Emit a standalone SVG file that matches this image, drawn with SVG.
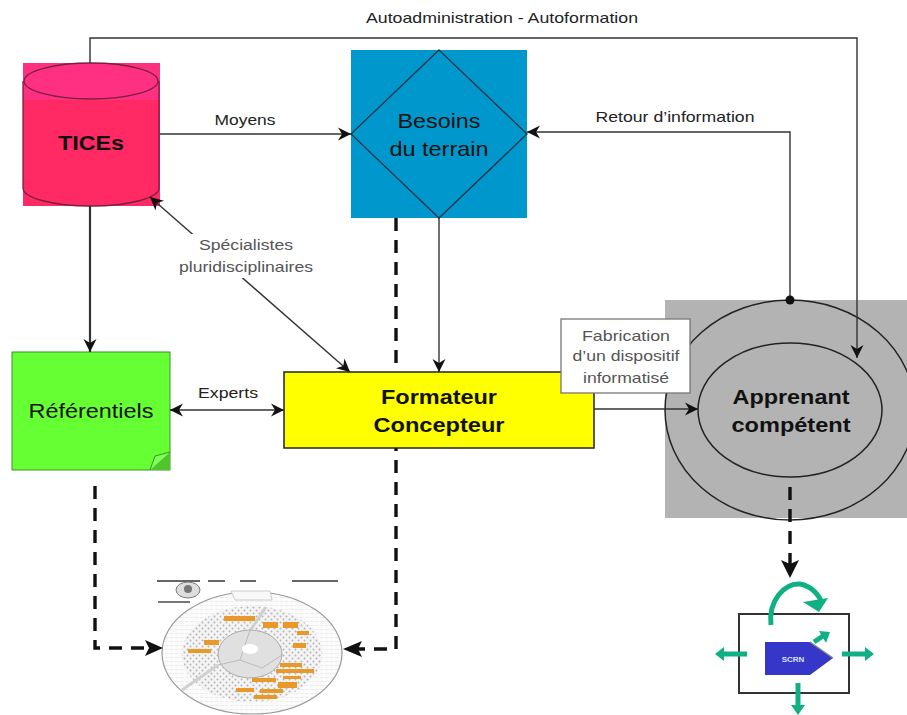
<svg xmlns="http://www.w3.org/2000/svg" width="907" height="715" viewBox="0 0 907 715">
<style>
text{font-family:"Liberation Sans",Arial,sans-serif;fill:#111;text-anchor:middle}
.big{font-size:21px}.b{font-weight:bold}.lab{font-size:15px;fill:#222}.gr{font-size:15px;fill:#555}
.ln{fill:none;stroke:#333;stroke-width:1.4}
.th{fill:none;stroke:#333;stroke-width:2.2}
.da{fill:none;stroke:#111;stroke-width:3.4;stroke-dasharray:13 9}
.or{fill:#e8992a}
.gn{fill:none;stroke:#0fb083;stroke-width:5}
.gf{fill:#0fb083}
</style>
<defs>
<marker id="ah" viewBox="0 0 15 15" refX="14" refY="7.5" markerWidth="15" markerHeight="15" markerUnits="userSpaceOnUse" orient="auto-start-reverse"><path d="M1 1L14 7.5L1 14L5 7.5Z" fill="#111"/></marker>
<pattern id="dots" width="6" height="6" patternUnits="userSpaceOnUse"><rect width="6" height="6" fill="#f4f4f4"/><circle cx="1.5" cy="1.5" r="1" fill="#b5b5b5"/><circle cx="4.5" cy="4.5" r="1" fill="#b5b5b5"/></pattern>
<pattern id="fine" width="5" height="4" patternUnits="userSpaceOnUse"><rect width="5" height="4" fill="#fbfbfb"/><rect y="1" width="3.5" height="1" fill="#ececec"/></pattern>
<filter id="soft" x="-5%" y="-5%" width="110%" height="110%"><feGaussianBlur stdDeviation="0.7"/></filter>
</defs>

<g id="node-ref-image" filter="url(#soft)">
<path d="M157 581H200M208 581H225M240 581H256M292 581H338" stroke="#666" stroke-width="2" fill="none"/>
<ellipse cx="188" cy="590" rx="12" ry="8" fill="#ddd" stroke="#777"/>
<circle cx="188" cy="589" r="4" fill="#777"/>
<path d="M158 602H190" stroke="#777" stroke-width="2"/>
<ellipse cx="252" cy="653" rx="90" ry="61" fill="url(#fine)" stroke="#999" stroke-width="1.2"/>
<path d="M231 591H270L272 600L235 600Z" fill="#f8f8f8" stroke="#ccc"/>
<ellipse cx="252" cy="654" rx="70" ry="48" fill="url(#dots)"/>
<path d="M266 607L250 631M218 665L182 690" stroke="#d0d0d0" stroke-width="3"/>
<ellipse cx="250" cy="654" rx="32" ry="24" fill="#e0e0e0" stroke="#aaa"/>
<path d="M250 630L240 660L218 665M240 660L262 668M262 668L282 655" stroke="#bbb" fill="none"/>
<ellipse cx="250" cy="649" rx="8" ry="5" fill="#fff"/>
<path class="or" d="M224 616h31v5h-31zM263 622h15v6h-15zM283 622h15v6h-15zM297 631h12v4h-12zM293 643h13v5h-13zM204 640h15v5h-15zM188 649h23v4h-23zM280 663h22v4h-22zM276 669h38v4h-38zM283 676h18v3h-18zM252 678h24v4h-24zM278 682h19v6h-19zM236 688h18v4h-18zM260 689h23v4h-23zM254 695h23v4h-23z"/>
</g>

<g id="connectors-behind">
<path class="da" d="M396 218V649H358"/>
</g>

<g id="node-tices">
<rect x="23" y="63" width="137" height="143" fill="#ff2a63"/>
<rect x="23" y="63" width="137" height="37" fill="#ff3082"/>
<path d="M23 81V188C23 198 53 206 91 206S159 198 159 188V81" fill="none" stroke="#7a2040" stroke-width="1.3"/>
<ellipse cx="91" cy="81" rx="67" ry="18" fill="none" stroke="#7a2040" stroke-width="1.3"/>
<text class="big b" x="91" y="150" textLength="66" lengthAdjust="spacingAndGlyphs">TICEs</text>
</g>

<g id="node-besoins">
<rect x="351" y="50" width="176" height="168" fill="#0098cc"/>
<path d="M439 50L527 134L439 218L351 134Z" fill="none" stroke="#13364a" stroke-width="1.3"/>
<text class="big" x="439" y="128" textLength="83" lengthAdjust="spacingAndGlyphs">Besoins</text>
<text class="big" x="439" y="156" textLength="99" lengthAdjust="spacingAndGlyphs">du terrain</text>
</g>

<g id="node-referentiels">
<rect x="12" y="352" width="158" height="118" fill="#66ff33" stroke="#3f8f2b" stroke-width="1"/>
<path d="M150 470L170 452V470Z" fill="#4fc52c"/>
<path d="M150 470L155 456L170 452" fill="#7dff55" stroke="#3f8f2b"/>
<text class="big" x="91" y="418" textLength="125" lengthAdjust="spacingAndGlyphs">Référentiels</text>
</g>

<g id="node-formateur">
<rect x="284" y="372" width="310" height="76" fill="#ffff00" stroke="#222" stroke-width="1.5"/>
<text class="big b" x="439" y="404" textLength="116" lengthAdjust="spacingAndGlyphs">Formateur</text>
<text class="big b" x="439" y="432" textLength="131" lengthAdjust="spacingAndGlyphs">Concepteur</text>
</g>

<g id="node-apprenant">
<rect x="665" y="300" width="242" height="218" fill="#b3b3b3"/>
<ellipse cx="790" cy="410" rx="125" ry="110" fill="none" stroke="#222" stroke-width="1.5"/>
<ellipse cx="790" cy="410" rx="92" ry="67" fill="none" stroke="#222" stroke-width="1.5"/>
<text class="big b" x="791" y="404" textLength="117" lengthAdjust="spacingAndGlyphs">Apprenant</text>
<text class="big b" x="791" y="432" textLength="119" lengthAdjust="spacingAndGlyphs">compétent</text>
</g>

<g id="node-scorm">
<rect x="739" y="614" width="110" height="79" fill="#fff" stroke="#333" stroke-width="2"/>
<path d="M765 642H810L833 658L810 675H765Z" fill="#3636c8"/>
<path d="M810 642L833 658" stroke="#888" stroke-width="1.5"/>
<text x="793" y="662" style="font-size:8px;fill:#dfe0ff;font-weight:bold">SCRN</text>
<path class="gn" d="M771 625C768 600 785 583 800 584C812 586 820 596 822 604" stroke-width="7"/>
<path class="gf" d="M803 602L828 598L819 612Z"/>
<path class="gn" d="M814 642L823 636" stroke-width="5"/>
<path class="gf" d="M819 631L830 632L826 643Z"/>
<path class="gn" d="M747 654H724"/><path class="gf" d="M715 654L724 647V661Z"/>
<path class="gn" d="M842 654H866"/><path class="gf" d="M874 654L865 647V661Z"/>
<path class="gn" d="M798 683V706"/><path class="gf" d="M798 715L791 705H805Z"/>
</g>

<g id="connectors">
<path class="ln" d="M90 63V38H857V358" marker-end="url(#ah)"/>
<path class="ln" d="M160 134H351" marker-end="url(#ah)"/>
<path class="ln" d="M790 300V132H527" marker-end="url(#ah)"/>
<path class="th" d="M90 206V352" marker-end="url(#ah)"/>
<path class="ln" d="M439 218V372" marker-end="url(#ah)"/>
<path class="ln" d="M150 197L350 372" marker-start="url(#ah)" marker-end="url(#ah)"/>
<path class="ln" d="M170 410H284" marker-start="url(#ah)" marker-end="url(#ah)"/>
<path class="ln" d="M594 409H698" marker-end="url(#ah)"/>
<path d="M343 649L362 641L358 649L362 657Z" fill="#111"/>
<path class="da" d="M95 486V648H154"/>
<path d="M163 648L145 640L149 648L145 656Z" fill="#111"/>
<path class="da" d="M790 487V570"/>
<path d="M790 578L781 560L790 564L799 560Z" fill="#111"/>
<circle cx="790" cy="300" r="4.5" fill="#111"/>
</g>

<g id="edge-labels">
<text class="lab" x="502" y="23" textLength="272" lengthAdjust="spacingAndGlyphs">Autoadministration - Autoformation</text>
<text class="lab" x="245" y="125" textLength="61" lengthAdjust="spacingAndGlyphs">Moyens</text>
<text class="lab" x="675" y="122" textLength="159" lengthAdjust="spacingAndGlyphs">Retour d’information</text>
<text class="lab" x="228" y="398" textLength="60" lengthAdjust="spacingAndGlyphs">Experts</text>
<rect x="178" y="234" width="136" height="44" fill="#fff"/>
<text class="gr" x="246" y="250" textLength="94" lengthAdjust="spacingAndGlyphs">Spécialistes</text>
<text class="gr" x="246" y="272" textLength="134" lengthAdjust="spacingAndGlyphs">pluridisciplinaires</text>
<g id="label-fabrication">
<rect x="561" y="319" width="129" height="74" fill="#fff" stroke="#777" stroke-width="1.3"/>
<text class="gr" x="626" y="341" textLength="88" lengthAdjust="spacingAndGlyphs">Fabrication</text>
<text class="gr" x="626" y="361" textLength="107" lengthAdjust="spacingAndGlyphs">d’un dispositif</text>
<text class="gr" x="626" y="383" textLength="86" lengthAdjust="spacingAndGlyphs">informatisé</text>
</g>
</g>
</svg>
